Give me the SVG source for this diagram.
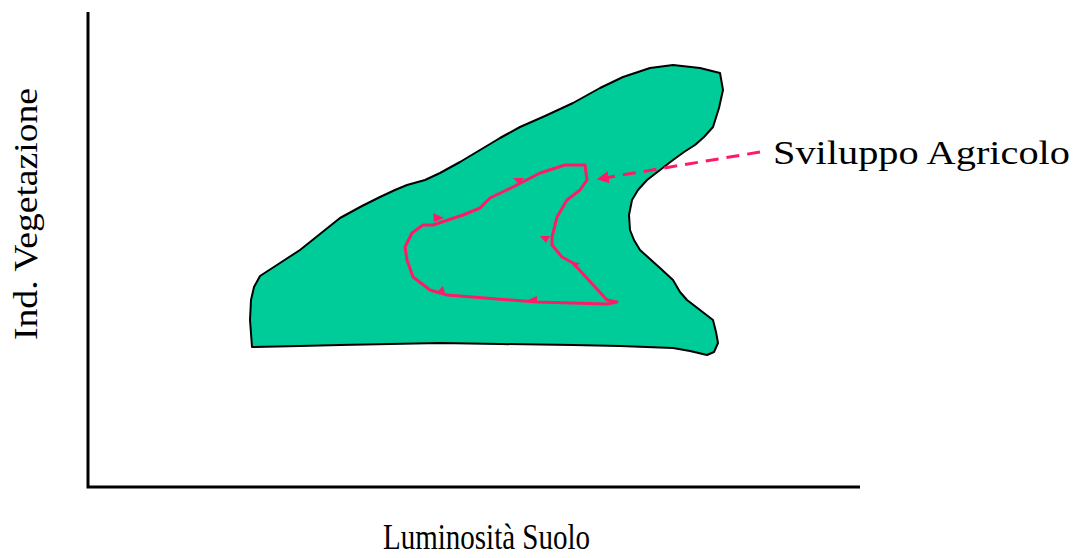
<svg xmlns="http://www.w3.org/2000/svg" width="1077" height="558" viewBox="0 0 1077 558">
<style>
.lbl{font-family:"Liberation Serif","Times New Roman",serif;font-size:34px;fill:#000}
.axis{stroke:#000;stroke-width:3;fill:none}
.loop{stroke:#ff1a66;stroke-width:3;fill:none;stroke-linejoin:round}
.tri{fill:#ff1a66}
</style>
<defs>
<marker id="ah" viewBox="0 0 10 10" refX="9" refY="5" markerWidth="4" markerHeight="4" orient="auto" markerUnits="strokeWidth">
<path d="M0,0 L10,5 L0,10 z" fill="#ff1a66"/>
</marker>
</defs>
<rect width="1077" height="558" fill="#fff"/>
<g id="axes">
<path class="axis" d="M88,12 L88,487 L860,487"/>
</g>
<g id="region">
<path d="M252,347 L250,320 L251,300 L254,287 L260,276 L280,263 L300,250 L320,234 L340,218 L362,206 L380,197 L395,190 L407,185 L425,180 L440,173 L460,162 L480,150 L500,138 L520,127 L545,116 L573,103 L600,88 L623,77 L650,68 L673,65 L700,68 L720,73 L723,90 L719,108 L713,127 L704,137 L695,145 L684,152 L673,160 L660,170 L647,180 L638,190 L632,200 L629,215 L630,230 L634,240 L640,250 L650,259 L660,268 L673,280 L680,292 L687,300 L700,310 L713,320 L716,332 L718,343 L714,352 L707,355 L690,351 L673,348 L620,346 L573,345 L500,344 L440,343 L390,344 L340,345 L300,346 Z" fill="#00cc99" stroke="#000" stroke-width="2" stroke-linejoin="round"/>
</g>
<g id="loop">
<path class="loop" d="M565,165 L585,165 L587,180 L580,190 L567,200 L557,217 L552,237 L552,245 L562,257 L573,263 L607,300 L617,302 L607,304 L537,302 L447,295 L430,290 L413,277 L407,260 L405,247 L412,233 L423,225 L433,225 L463,215 L480,208 L490,198 L513,187 L540,173 Z"/>
<polygon class="tri" points="513,178 524,178 519,184"/>
<polygon class="tri" points="433,213 444,218 434,222"/>
<polygon class="tri" points="540,236 550,236 546,243"/>
<polygon class="tri" points="571,262 580,263 575,268"/>
<polygon class="tri" points="437,292 443,286 445,293"/>
<polygon class="tri" points="528,300 537,296 537,303"/>
</g>
<g id="connectors">
<path d="M760,152 L598,179" stroke="#ff1a66" stroke-width="3" stroke-dasharray="13,8" fill="none" marker-end="url(#ah)"/>
</g>
<g id="labels">
<text class="lbl" x="773" y="164" textLength="297" lengthAdjust="spacingAndGlyphs">Sviluppo Agricolo</text>
<text class="lbl" x="383" y="549" style="font-size:35px" textLength="207" lengthAdjust="spacingAndGlyphs">Luminosità Suolo</text>
<text class="lbl" transform="translate(37,340) rotate(-90)" textLength="252" lengthAdjust="spacingAndGlyphs">Ind. Vegetazione</text>
</g>
</svg>
